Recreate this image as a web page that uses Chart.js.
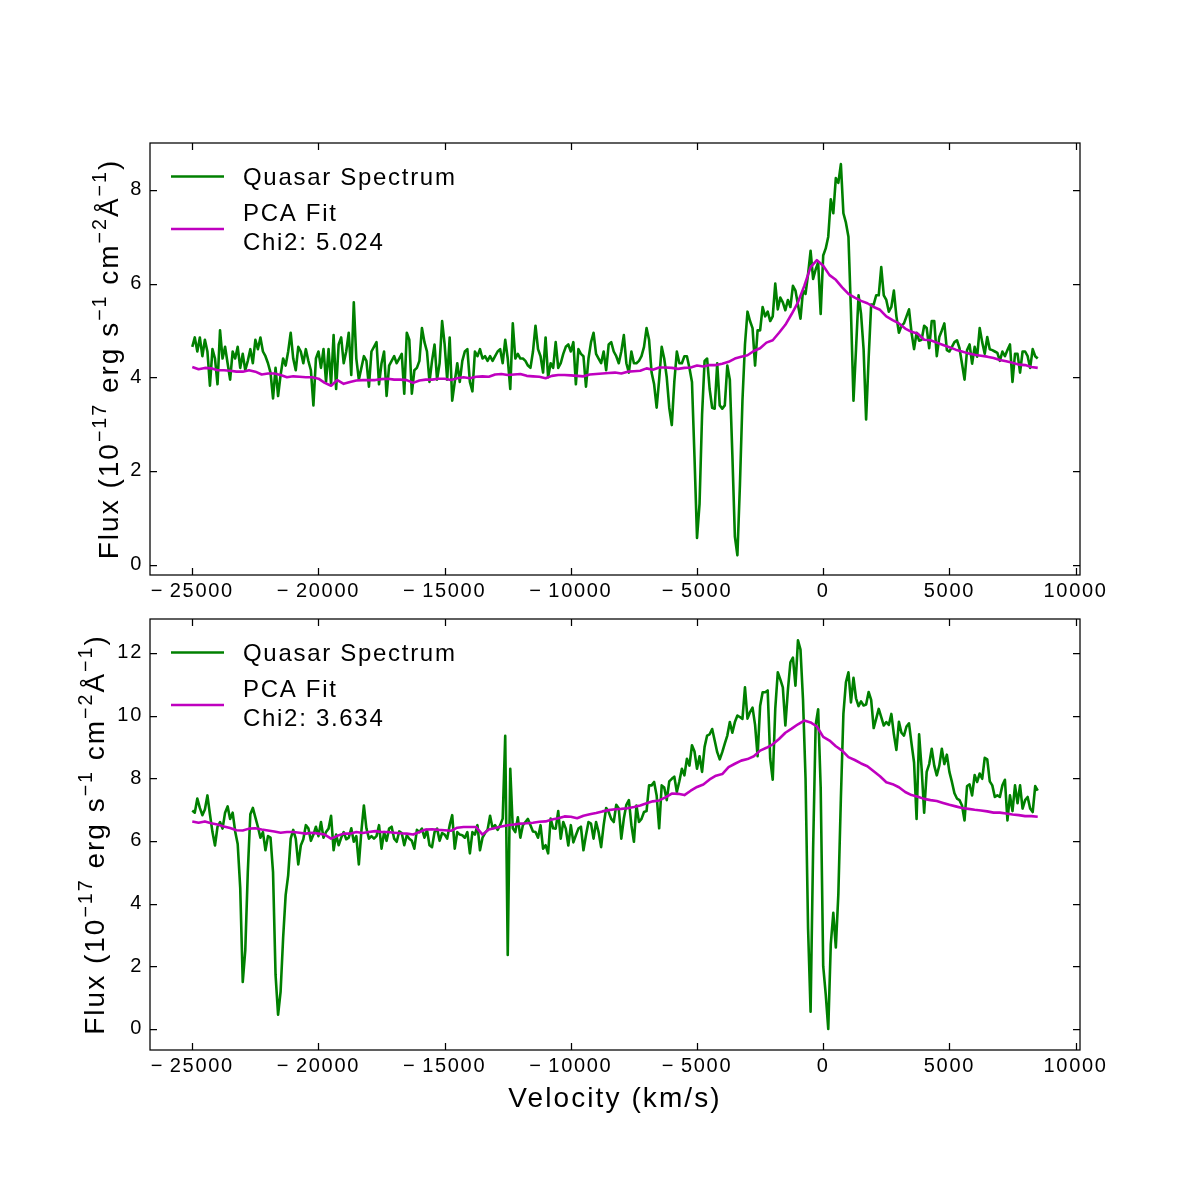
<!DOCTYPE html>
<html><head><meta charset="utf-8">
<script src="https://cdn.jsdelivr.net/npm/chart.js@4.4.1/dist/chart.umd.min.js"></script>
<style>
html,body{margin:0;padding:0;background:#fff;}
#wrap{position:relative;width:1200px;height:1200px;background:#fff;}
canvas{position:absolute;left:0;}
</style></head><body>
<div id="wrap">
<canvas id="c1" width="1200" height="600" style="top:0px"></canvas>
<canvas id="c2" width="1200" height="600" style="top:600px"></canvas>
</div>
<script>
// ---------- DATA ----------
// velocity sampling of the spectra (km/s)
const spectrumGrid = { start: -25000, step: 100 };   // 336 samples
const fitGrid = { start: -25000, step: 250 };        // 135 samples

const xTickValues = [-25000, -20000, -15000, -10000, -5000, 0, 5000, 10000];
const topYTicks = [0, 2, 4, 6, 8];
const bottomYTicks = [0, 2, 4, 6, 8, 10, 12];
const seriesNames = ['Quasar Spectrum', 'PCA Fit'];
const chi2Values = ['5.024', '3.634'];

// Panel 1 – quasar spectrum flux (1e-17 erg/s/cm2/A)
const topSpectrum = [
4.65,4.85,4.55,4.85,4.45,4.80,4.55,3.82,4.60,4.40,
3.85,5.00,4.40,4.65,4.30,3.95,4.55,4.40,4.65,4.20,
4.50,4.15,4.35,4.60,4.30,4.80,4.60,4.85,4.55,4.45,
4.30,4.10,3.55,4.20,3.60,4.05,4.40,4.25,4.55,4.95,
4.40,4.15,4.65,4.55,4.30,4.60,4.35,4.15,3.40,4.40,
4.55,4.20,4.60,3.90,4.60,3.85,4.90,3.75,4.70,4.85,
4.30,4.55,4.95,4.05,5.60,4.40,3.95,4.20,4.45,4.35,
3.80,4.55,4.65,4.75,3.85,4.30,4.55,3.60,4.25,4.35,
4.45,4.30,4.40,4.50,3.65,4.95,4.80,3.65,4.15,4.20,
4.35,5.05,4.75,4.55,3.90,4.35,4.70,3.95,4.30,5.20,
4.70,3.95,4.85,3.50,3.90,4.30,3.90,4.35,4.55,4.60,
3.90,3.70,4.55,4.45,4.60,4.40,4.45,4.35,4.45,4.35,
4.45,4.55,4.60,4.30,4.80,4.40,3.75,5.15,4.40,4.50,
4.40,4.40,4.35,4.25,4.20,4.55,5.10,4.60,4.45,4.10,
4.85,4.00,4.30,4.20,4.75,4.20,4.30,4.50,4.65,4.70,
4.55,4.75,3.85,4.60,4.50,4.45,3.80,4.40,4.75,4.95,
4.50,4.40,4.30,4.55,4.15,4.70,4.75,4.55,4.45,4.30,
4.55,4.90,4.30,4.10,4.55,4.30,4.30,4.35,4.45,4.65,
5.05,4.80,4.10,3.85,3.35,3.95,4.65,4.40,4.00,3.35,
2.98,3.90,4.55,4.30,4.30,4.45,4.45,4.20,3.90,2.30,
0.57,1.30,3.20,4.35,4.40,3.75,3.35,3.33,4.30,3.40,
3.33,3.40,4.25,3.95,2.35,0.60,0.20,1.70,3.50,4.70,
5.40,5.20,5.05,4.25,5.00,5.00,5.50,5.30,5.40,5.20,
5.30,6.00,5.45,5.70,5.60,5.43,5.65,5.50,5.95,5.85,
5.55,5.25,5.85,5.78,6.20,6.70,6.10,6.30,6.45,5.35,
6.60,6.75,7.00,7.80,7.50,8.25,8.15,8.55,7.50,7.30,
7.00,5.40,3.50,4.60,5.75,5.35,4.60,3.10,4.40,5.55,
5.55,5.75,5.75,6.35,5.75,5.65,5.40,5.50,5.85,5.30,
4.95,5.10,5.15,5.30,5.45,4.95,4.60,4.95,4.78,4.80,
5.10,5.05,4.62,5.20,5.20,4.45,4.86,5.00,5.15,4.58,
4.55,4.65,4.75,4.79,4.62,4.29,3.95,4.58,4.70,4.29,
4.65,4.44,5.05,4.75,4.50,4.86,4.60,4.58,4.55,4.52,
4.35,4.55,4.45,4.58,4.70,3.90,4.50,4.50,4.10,4.55,
4.55,4.45,4.20,4.60,4.45,4.40
];
// Panel 1 – PCA fit
const topFit = [
4.22,4.17,4.20,4.19,4.15,4.15,4.14,4.12,4.12,4.15,
4.12,4.06,4.08,4.08,4.05,4.00,4.02,4.01,4.00,4.00,
3.97,3.88,3.82,3.94,3.86,3.90,3.93,3.94,3.94,3.94,
3.96,3.97,3.95,3.95,3.94,3.88,3.93,3.95,3.95,3.97,
3.97,3.94,3.98,4.00,3.98,4.01,4.02,4.01,4.06,4.07,
4.05,4.06,4.07,4.03,4.02,4.01,3.98,4.03,4.05,4.05,
4.04,4.03,4.02,4.06,4.07,4.08,4.09,4.10,4.08,4.12,
4.13,4.14,4.19,4.16,4.21,4.21,4.20,4.18,4.20,4.21,
4.25,4.23,4.26,4.26,4.29,4.33,4.40,4.44,4.47,4.56,
4.62,4.74,4.79,4.95,5.12,5.35,5.60,5.95,6.35,6.50,
6.38,6.18,6.08,5.92,5.78,5.70,5.63,5.58,5.50,5.44,
5.30,5.22,5.15,5.04,4.97,4.93,4.80,4.79,4.74,4.69,
4.64,4.59,4.55,4.51,4.48,4.46,4.44,4.41,4.37,4.34,
4.31,4.27,4.26,4.22,4.20
];
// Panel 2 – quasar spectrum flux
const bottomSpectrum = [
6.97,6.90,7.35,7.05,6.82,7.00,7.45,6.85,6.28,5.85,
6.45,6.60,6.39,6.90,7.10,6.70,6.90,6.30,5.90,4.50,
1.50,2.50,5.00,6.85,7.05,6.75,6.45,6.10,6.28,5.70,
6.15,6.10,5.00,1.72,0.45,1.19,2.90,4.27,4.90,6.07,
6.35,6.07,5.25,5.85,6.05,6.50,6.40,6.00,6.20,6.45,
6.15,6.60,6.10,6.28,6.39,6.80,5.70,6.20,5.86,6.10,
6.28,6.05,6.10,6.40,5.97,6.15,5.25,6.30,7.13,6.40,
6.07,6.15,6.07,6.15,6.50,5.75,6.28,6.00,6.39,6.45,
6.07,5.97,6.30,6.25,5.86,6.18,6.07,6.00,5.75,6.35,
6.28,6.39,6.10,6.35,5.86,5.80,6.28,6.39,6.00,6.25,
6.20,6.07,6.50,6.82,5.75,6.28,6.20,6.18,6.10,6.28,
5.60,6.28,6.20,6.50,5.70,6.10,6.25,6.35,6.80,6.40,
6.50,6.35,6.50,6.71,9.35,2.36,8.30,6.40,6.28,6.75,
6.10,6.50,6.60,6.70,6.50,6.30,6.28,6.10,6.50,5.75,
5.86,5.60,6.71,6.40,6.39,6.95,6.07,6.60,6.39,5.85,
6.50,5.95,6.18,6.39,6.45,5.70,6.18,6.60,6.55,6.07,
6.60,6.28,5.80,6.50,7.05,6.92,6.70,6.60,7.15,7.03,
6.07,6.71,7.15,7.30,6.50,5.97,7.13,6.60,6.70,6.92,
6.95,7.77,7.77,7.88,7.45,6.40,7.77,7.70,7.30,7.90,
7.98,8.05,7.56,7.90,8.30,8.09,8.62,8.40,9.05,8.85,
8.30,8.70,8.20,9.00,9.36,9.40,9.57,9.20,8.83,8.60,
8.83,9.10,9.36,9.79,9.45,9.79,10.00,9.95,9.89,10.90,
9.90,10.11,10.25,9.70,8.70,10.30,10.74,10.74,10.80,8.62,
7.95,10.21,11.38,11.15,10.90,9.68,10.80,11.70,11.85,10.95,
12.40,12.10,10.50,8.00,3.20,0.55,5.75,9.70,10.20,7.70,
2.00,1.10,0.00,2.70,3.70,2.60,4.30,7.35,10.05,11.06,
11.38,10.42,11.20,10.55,10.30,10.45,10.32,10.35,10.75,10.50,
9.60,9.90,10.21,9.95,9.68,9.79,9.70,10.05,9.40,8.90,
9.80,9.45,9.36,9.65,9.75,9.10,8.50,6.70,9.40,8.30,
6.90,8.20,8.45,8.94,8.40,8.09,8.40,8.94,8.45,8.75,
8.20,7.88,7.52,7.35,7.30,7.13,6.65,7.75,7.80,7.45,
8.10,7.88,8.15,7.98,8.65,8.60,7.90,7.77,7.40,7.45,
7.40,7.77,7.95,6.65,7.45,6.95,7.77,7.20,7.77,7.03,
7.30,7.40,7.03,6.92,7.75,7.60
];
// Panel 2 – PCA fit
const bottomFit = [
6.62,6.58,6.62,6.56,6.52,6.46,6.41,6.34,6.33,6.39,
6.40,6.36,6.33,6.30,6.26,6.28,6.28,6.26,6.23,6.26,
6.23,6.20,6.07,6.16,6.23,6.23,6.28,6.25,6.28,6.31,
6.28,6.28,6.26,6.24,6.23,6.20,6.28,6.36,6.37,6.35,
6.34,6.32,6.42,6.44,6.44,6.44,6.20,6.36,6.41,6.46,
6.50,6.52,6.55,6.56,6.58,6.61,6.62,6.68,6.72,6.78,
6.77,6.72,6.80,6.85,6.89,6.94,6.98,7.01,7.02,7.04,
7.08,7.13,7.20,7.26,7.29,7.39,7.51,7.50,7.46,7.60,
7.72,7.80,7.96,8.08,8.13,8.35,8.46,8.56,8.61,8.70,
8.88,8.97,9.08,9.25,9.45,9.58,9.72,9.84,9.78,9.65,
9.32,9.20,9.02,8.88,8.67,8.58,8.47,8.38,8.22,8.06,
7.87,7.81,7.71,7.56,7.46,7.41,7.34,7.30,7.27,7.21,
7.15,7.10,7.05,7.02,6.99,6.97,6.94,6.90,6.90,6.87,
6.84,6.82,6.79,6.79,6.77
];

// ---------- STYLE ----------
const FONT = '"Liberation Sans", Arial, Helvetica, sans-serif';
const GREEN = '#008000';
const MAGENTA = '#bf00bf';

function gridPoints(grid, values) {
  return values.map((y, i) => ({ x: grid.start + i * grid.step, y: y }));
}
function fmtTick(v) {
  return v < 0 ? '\u2212\u2009' + Math.abs(v) : String(v);
}
function setSpacing(ctx, px) { try { ctx.letterSpacing = px + 'px'; } catch (e) {} }

function drawRich(ctx, parts, size) {
  let w = 0;
  const items = parts.map(p => {
    const fs = p.sup ? size * 0.7 : size;
    ctx.font = fs + 'px ' + FONT;
    const mw = ctx.measureText(p.t).width;
    const it = { t: p.t, fs: fs, w: mw, dy: p.sup ? -size * 0.42 : 0 };
    w += mw;
    return it;
  });
  return { width: w, draw(x0) {
    let x = x0;
    items.forEach(it => {
      ctx.font = it.fs + 'px ' + FONT;
      ctx.fillText(it.t, x, it.dy);
      x += it.w;
    });
  }};
}

const yLabelParts = [
  { t: 'Flux (10' }, { t: '\u221217', sup: true }, { t: ' erg s' }, { t: '\u22121', sup: true },
  { t: ' cm' }, { t: '\u22122', sup: true }, { t: '\u00C5' }, { t: '\u22121', sup: true }, { t: ')' }
];

function makeFramePlugin(cfg) {
  return {
    id: 'frame_' + cfg.id,
    beforeDraw(chart) { setSpacing(chart.ctx, 1.7); },
    afterDraw(chart) {
      const ctx = chart.ctx, a = chart.chartArea, sx = chart.scales.x, sy = chart.scales.y;
      ctx.save();
      ctx.strokeStyle = '#000';
      ctx.lineWidth = 1.25;
      ctx.strokeRect(a.left, a.top, a.right - a.left, a.bottom - a.top);
      const L = 7;
      ctx.beginPath();
      sx.ticks.forEach(t => {
        const p = Math.round(sx.getPixelForValue(t.value)) + 0.5;
        ctx.moveTo(p, a.bottom); ctx.lineTo(p, a.bottom - L);
        ctx.moveTo(p, a.top); ctx.lineTo(p, a.top + L);
      });
      sy.ticks.forEach(t => {
        const p = Math.round(sy.getPixelForValue(t.value)) + 0.5;
        ctx.moveTo(a.left, p); ctx.lineTo(a.left + L, p);
        ctx.moveTo(a.right, p); ctx.lineTo(a.right - L, p);
      });
      ctx.stroke();

      // legend
      ctx.lineWidth = 2.6;
      ctx.strokeStyle = GREEN;
      ctx.beginPath(); ctx.moveTo(a.left + 21, a.top + 33.5); ctx.lineTo(a.left + 74, a.top + 33.5); ctx.stroke();
      ctx.strokeStyle = MAGENTA;
      ctx.beginPath(); ctx.moveTo(a.left + 21, a.top + 86); ctx.lineTo(a.left + 74, a.top + 86); ctx.stroke();
      ctx.fillStyle = '#000';
      setSpacing(ctx, 1.7);
      ctx.font = '24px ' + FONT;
      ctx.textAlign = 'left';
      ctx.textBaseline = 'alphabetic';
      ctx.fillText(seriesNames[0], a.left + 93, a.top + 42);
      ctx.fillText(seriesNames[1], a.left + 93, a.top + 78);
      ctx.fillText('Chi2: ' + cfg.chi2, a.left + 93, a.top + 107);

      // y label
      setSpacing(ctx, 2);
      ctx.save();
      ctx.translate(cfg.yLabelX, (a.top + a.bottom) / 2);
      ctx.rotate(-Math.PI / 2);
      const rich = drawRich(ctx, yLabelParts, 28);
      rich.draw(-rich.width / 2);
      ctx.restore();

      if (cfg.xLabel) {
        ctx.font = '28px ' + FONT;
        setSpacing(ctx, 2.1);
        ctx.textAlign = 'center';
        ctx.fillText(cfg.xLabel, (a.left + a.right) / 2, cfg.xLabelY);
      }
      ctx.restore();
    }
  };
}

function makeChart(cfg) {
  const el = document.getElementById(cfg.id);
  return new Chart(el.getContext('2d'), {
    type: 'line',
    data: {
      datasets: [
        { label: seriesNames[1], data: gridPoints(fitGrid, cfg.fit), borderColor: MAGENTA,
          borderWidth: 2.6, pointRadius: 0, fill: false, tension: 0, borderJoinStyle: 'round' },
        { label: seriesNames[0], data: gridPoints(spectrumGrid, cfg.spec), borderColor: GREEN,
          borderWidth: 2.6, pointRadius: 0, fill: false, tension: 0, borderJoinStyle: 'round' }
      ]
    },
    options: {
      responsive: false, animation: false, devicePixelRatio: 1,
      parsing: false, normalized: true,
      layout: { padding: { left: 0, right: 120, top: cfg.padTop, bottom: 0 } },
      plugins: { legend: { display: false }, tooltip: { enabled: false }, title: { display: false } },
      scales: {
        x: {
          type: 'linear', min: -26675, max: 10175,
          grid: { display: false, drawTicks: false }, border: { display: false },
          afterBuildTicks: s => { s.ticks = xTickValues.map(v => ({ value: v })); },
          afterFit: s => { s.height = cfg.xAxisHeight; },
          ticks: { autoSkip: false, maxRotation: 0, minRotation: 0, padding: 4, color: '#000',
            font: { family: FONT, size: 20 }, callback: v => fmtTick(v) }
        },
        y: {
          type: 'linear', min: cfg.yMin, max: cfg.yMax,
          grid: { display: false, drawTicks: false }, border: { display: false },
          afterBuildTicks: s => { s.ticks = cfg.yTicks.map(v => ({ value: v })); },
          afterFit: s => { s.width = 150; },
          ticks: { autoSkip: false, padding: 7, color: '#000',
            font: { family: FONT, size: 20 }, callback: v => String(v) }
        }
      }
    },
    plugins: [makeFramePlugin(cfg)]
  });
}

makeChart({ id: 'c1', spec: topSpectrum, fit: topFit, yMin: -0.22, yMax: 9.0, yTicks: topYTicks,
  chi2: chi2Values[0], padTop: 143, xAxisHeight: 25, yLabelX: 118 });
makeChart({ id: 'c2', spec: bottomSpectrum, fit: bottomFit, yMin: -0.675, yMax: 13.08, yTicks: bottomYTicks,
  chi2: chi2Values[1], padTop: 18, xAxisHeight: 150, yLabelX: 104, xLabel: 'Velocity (km/s)', xLabelY: 507 });
</script></body></html>
